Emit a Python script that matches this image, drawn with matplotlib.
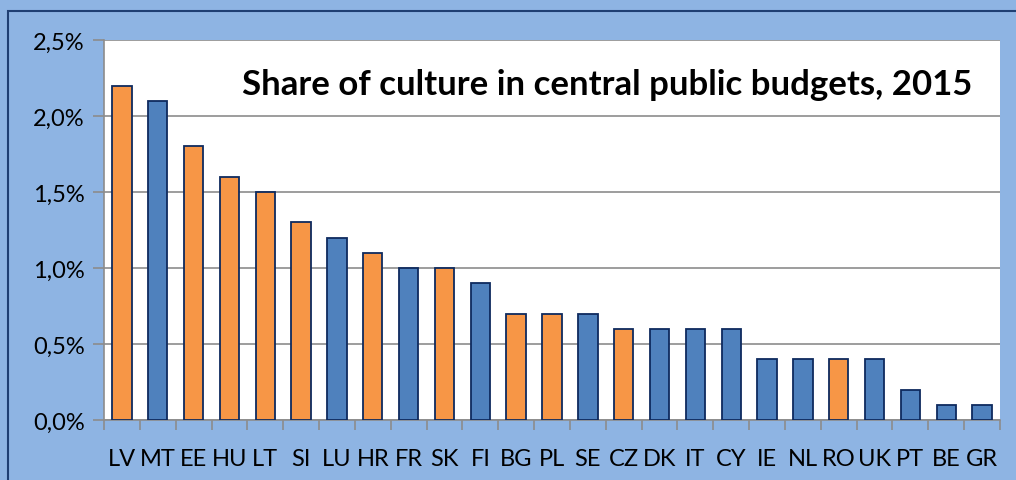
import matplotlib.pyplot as plt
from matplotlib.patches import Rectangle
from matplotlib.ticker import FixedLocator

# --- data ------------------------------------------------------------------

countries = ["LV", "MT", "EE", "HU", "LT", "SI", "LU", "HR", "FR", "SK", "FI", "BG", "PL",
             "SE", "CZ", "DK", "IT", "CY", "IE", "NL", "RO", "UK", "PT", "BE", "GR"]
shares = [2.2, 2.1, 1.8, 1.6, 1.5, 1.3, 1.2, 1.1, 1.0, 1.0, 0.9, 0.7, 0.7,
          0.7, 0.6, 0.6, 0.6, 0.6, 0.4, 0.4, 0.4, 0.4, 0.2, 0.1, 0.1]
highlighted = ["LV", "EE", "HU", "LT", "SI", "HR", "SK", "BG", "PL", "CZ", "RO"]
yticks = [0.0, 0.5, 1.0, 1.5, 2.0, 2.5]
ytick_labels = ["0,0%", "0,5%", "1,0%", "1,5%", "2,0%", "2,5%"]

# --- plot ------------------------------------------------------------------

plt.rcParams["font.family"] = ["Lato", "DejaVu Sans"]

ORANGE = "#F79646"
BLUE = "#4F81BD"
EDGE = "#0E2A5E"
GRID = "#8C8C8C"
BG = "#8EB4E3"

fig = plt.figure(figsize=(10.16, 4.81), dpi=100, facecolor=BG)
fig.patches.append(Rectangle((8 / 1016, -0.1), 1.2, 1 - 12 / 481 + 0.1,
                             transform=fig.transFigure, facecolor="none",
                             edgecolor="#1F3F73", linewidth=1.5))
ax = fig.add_axes([104 / 1016, 60 / 481, 896 / 1016, 380 / 481])
ax.set_facecolor("white")

x = list(range(len(countries)))
colors = [ORANGE if c in highlighted else BLUE for c in countries]
ax.bar(x, shares, width=0.54, color=colors, edgecolor=EDGE, linewidth=1.3, zorder=3)

ax.set_xlim(-0.5, len(countries) - 0.5)
ax.set_ylim(0, 2.5)
ax.set_yticks(yticks)
ax.set_yticklabels(ytick_labels, fontsize=17)
ax.yaxis.grid(True, color=GRID, linewidth=1.2, zorder=0)

ax.set_xticks(x)
ax.set_xticklabels(countries, fontsize=17)
ax.xaxis.set_minor_locator(FixedLocator([i - 0.5 for i in range(len(countries) + 1)]))
ax.tick_params(axis="x", which="major", length=0, pad=20)
ax.tick_params(axis="x", which="minor", length=7, width=1.2, color=GRID)
ax.tick_params(axis="y", length=8, width=1.2, color=GRID, pad=6)

for side in ["top", "right"]:
    ax.spines[side].set_visible(False)
for side in ["left", "bottom"]:
    ax.spines[side].set_color(GRID)
    ax.spines[side].set_linewidth(1.2)

ax.text(0.561, 0.884, "Share of culture in central public budgets, 2015",
        transform=ax.transAxes, ha="center", va="center",
        fontsize=25, fontweight="bold", color="black")

fig.savefig("out.png", dpi=100, facecolor=BG)
